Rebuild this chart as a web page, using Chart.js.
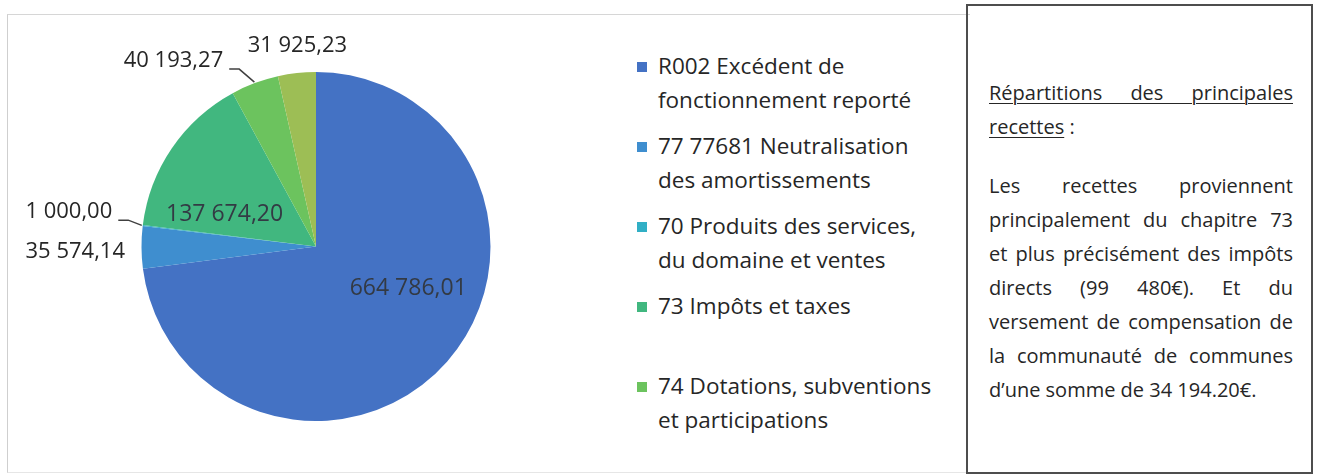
<!DOCTYPE html>
<html lang="fr">
<head>
<meta charset="utf-8">
<script src="https://cdn.jsdelivr.net/npm/chart.js@4/dist/chart.umd.min.js"></script>
<style>
  body { margin: 0; background: #fff; font-family: "Open Sans", sans-serif; color: #262626; }
  .page { position: relative; width: 1320px; height: 475px; overflow: hidden; }
  .chart-frame {
    position: absolute; left: 7px; top: 14px; width: 962px; height: 457px;
    border-left: 1px solid #cfcfcf; border-top: 1px solid #d6d6d6; border-bottom: 1px solid #e6e6e6;
  }
  .pie-wrap { position: absolute; left: 0; top: 0; width: 632px; height: 475px; }
  .legend { position: absolute; left: 636px; top: 49px; width: 320px; }
  .legend-item { position: relative; height: 80px; padding-left: 22px; font-size: 22.5px; line-height: 34px; white-space: nowrap; }
  .legend-swatch { position: absolute; left: 1px; top: 13px; width: 10px; height: 10px; }
  .note {
    position: absolute; left: 966px; top: 4px; width: 347px; height: 470px;
    box-sizing: border-box; border: 2px solid #4d4d4d; padding: 70px 0 0 21px;
  }
  .note div { width: 304px; font-size: 20px; line-height: 34px; }
  .note .j { text-align: justify; text-align-last: justify; }
  .note u { text-decoration-thickness: 1px; text-underline-offset: 3px; }
  .note .gap { height: 25px; }
</style>
</head>
<body>
<div class="page">
  <div class="chart-frame"></div>
  <div class="pie-wrap"><canvas id="pie"></canvas></div>
  <div class="legend" id="legend"></div>
  <div class="note">
    <div class="j"><u>Répartitions des principales</u></div>
    <div><u>recettes</u> :</div>
    <div class="gap"></div>
    <div class="j">Les recettes proviennent</div>
    <div class="j">principalement du chapitre 73</div>
    <div class="j">et plus précisément des impôts</div>
    <div class="j">directs (99 480€). Et du</div>
    <div class="j">versement de compensation de</div>
    <div class="j">la communauté de communes</div>
    <div>d’une somme de 34 194.20€.</div>
  </div>
</div>
<script>
// recettes de fonctionnement, in pie order (clockwise from the top)
const categories = [
  ["R002 Excédent de", "fonctionnement reporté"],
  ["77 77681 Neutralisation", "des amortissements"],
  ["70 Produits des services,", "du domaine et ventes"],
  ["73 Impôts et taxes"],
  ["74 Dotations, subventions", "et participations"],
  ["Autres"]
];
const amounts = [664786.01, 35574.14, 1000.00, 137674.20, 40193.27, 31925.23];
const sliceColors = ["#4472C4", "#3F8ECF", "#31AFC5", "#41B77F", "#6CC35E", "#9DBE55"];
const legendCount = 5; // the last entry is cut off in the original

function frNumber(v) {
  const [int, dec] = v.toFixed(2).split(".");
  return int.replace(/\B(?=(\d{3})+(?!\d))/g, " ") + "," + dec;
}

// legend built from the same arrays
const legend = document.getElementById("legend");
legend.innerHTML = categories.slice(0, legendCount).map((lines, i) => `
  <div class="legend-item">
    <span class="legend-swatch" style="background:${sliceColors[i]}"></span>
    ${lines.join("<br>")}
  </div>`).join("");

// label placement: radius factor + angle shift (deg) from the slice middle
const labelPlacement = [
  { f: 0.58, shift: -17, inside: true },
  { f: 1.38, shift: -1 },
  { f: 1.43, shift: 1, leader: true },
  { f: 0.555, shift: -15, inside: true },
  { f: 1.34, shift: -17, leader: true },
  { f: 1.155, shift: 1 }
];

const valueLabels = {
  id: "valueLabels",
  afterDatasetsDraw(chart) {
    const ctx = chart.ctx;
    const meta = chart.getDatasetMeta(0);
    ctx.save();
    meta.data.forEach((arc, i) => {
      const p = labelPlacement[i];
      const { x, y, startAngle, endAngle, outerRadius } =
        arc.getProps(["x", "y", "startAngle", "endAngle", "outerRadius"], true);
      const mid = (startAngle + endAngle) / 2;
      const a = mid + p.shift * Math.PI / 180;
      const tx = x + Math.cos(a) * outerRadius * p.f;
      const ty = y + Math.sin(a) * outerRadius * p.f;
      const text = frNumber(amounts[i]);
      ctx.font = (p.inside ? "23px" : "22px") + ' "Open Sans"';
      ctx.fillStyle = p.inside ? "#333a44" : "#262626";
      ctx.textAlign = "center";
      ctx.textBaseline = "middle";
      ctx.fillText(text, tx, ty);
      if (p.leader) {
        const right = tx + ctx.measureText(text).width / 2;
        ctx.strokeStyle = "#404040";
        ctx.lineWidth = 1.5;
        ctx.beginPath();
        ctx.moveTo(right + 6, ty + 8);
        ctx.lineTo(right + 16, ty + 8);
        ctx.lineTo(x + Math.cos(mid) * (outerRadius + 1), y + Math.sin(mid) * (outerRadius + 1));
        ctx.stroke();
      }
    });
    ctx.restore();
  }
};

new Chart(document.getElementById("pie"), {
  type: "pie",
  data: {
    labels: categories.map((l) => l.join(" ")),
    datasets: [{
      data: amounts,
      backgroundColor: sliceColors,
      borderWidth: 0
    }]
  },
  options: {
    responsive: true,
    maintainAspectRatio: false,
    animation: false,
    layout: { padding: { top: 72, bottom: 54, left: 0, right: 0 } },
    plugins: {
      legend: { display: false },
      tooltip: { enabled: false }
    }
  },
  plugins: [valueLabels]
});
</script>
</body>
</html>
